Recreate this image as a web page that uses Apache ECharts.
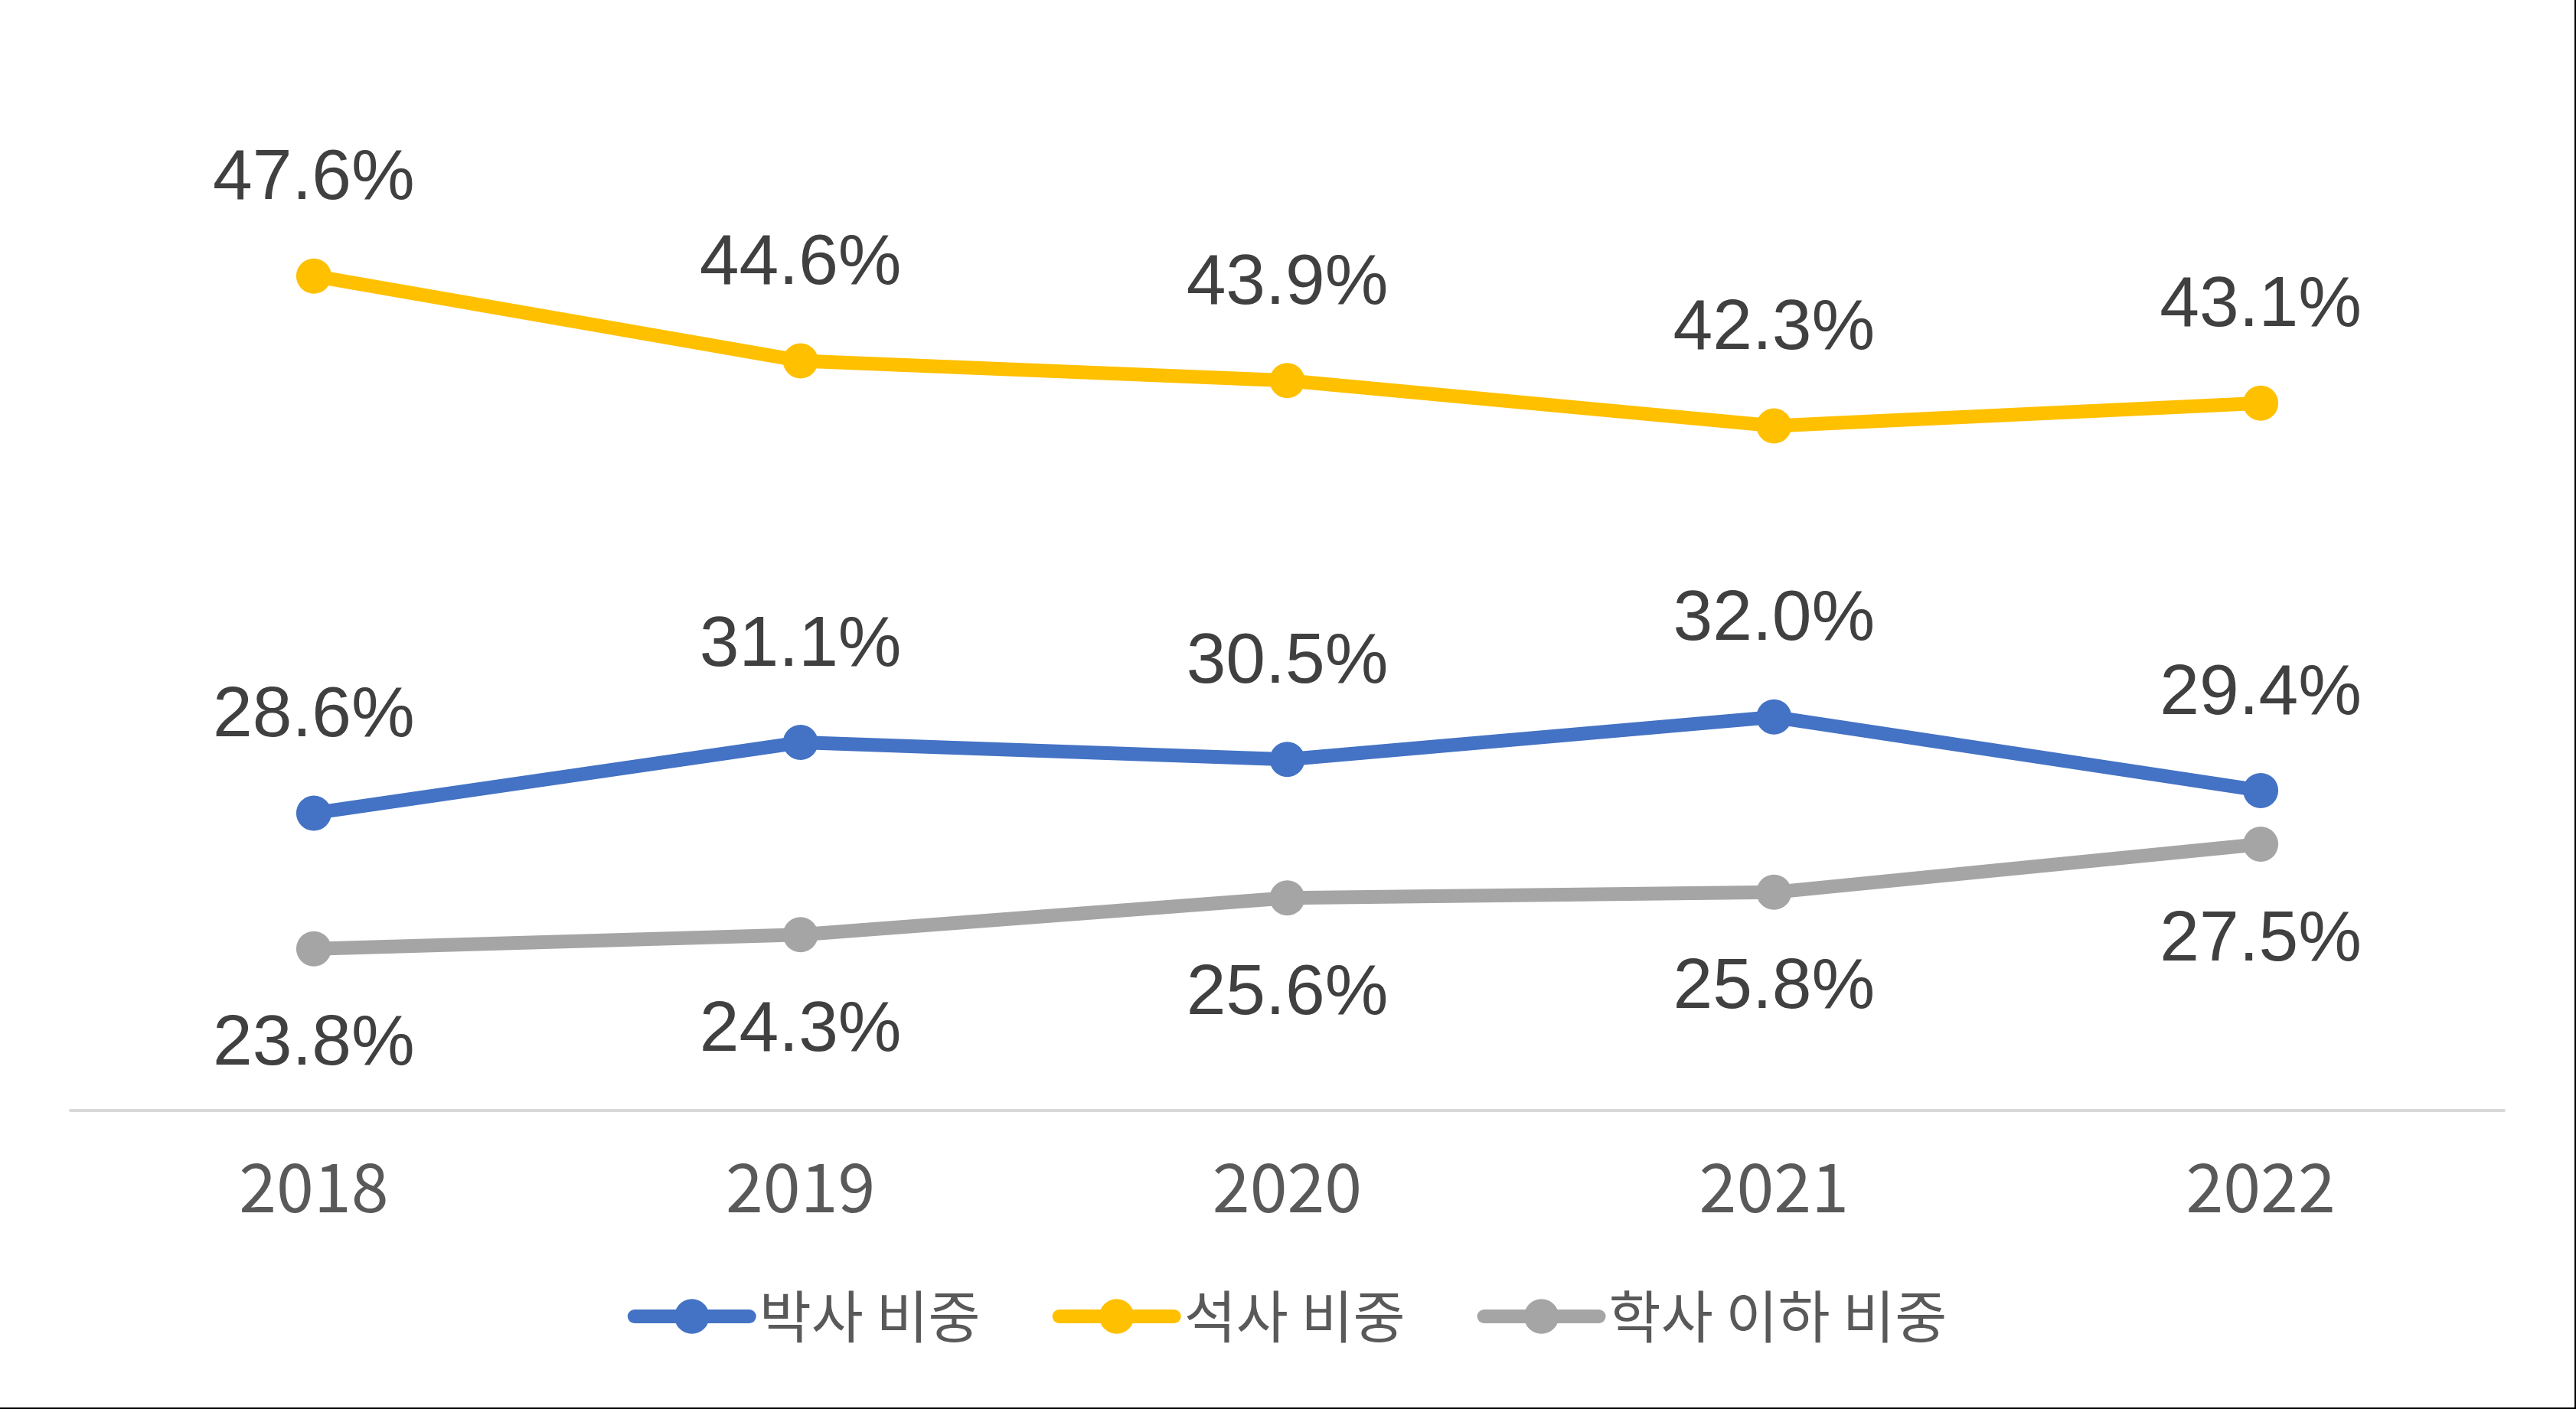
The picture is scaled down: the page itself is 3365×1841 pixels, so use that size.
<!DOCTYPE html>
<html>
<head>
<meta charset="utf-8">
<script src="https://cdn.jsdelivr.net/npm/echarts@6/dist/echarts.min.js"></script>
<style>
  html, body { margin: 0; padding: 0; background: #fff; }
  #wrap { width: 3365px; height: 1841px; box-sizing: border-box; border-right: 2px solid #000; border-bottom: 2px solid #000; }
  #chart { width: 3363px; height: 1839px; }
</style>
</head>
<body>
<div id="wrap"><div id="chart"></div></div>
<script>
const categories = ['2018', '2019', '2020', '2021', '2022'];
const seriesNames = ['박사 비중', '석사 비중', '학사 이하 비중'];
const doctorShare = [28.6, 31.1, 30.5, 32.0, 29.4];
const masterShare = [47.6, 44.6, 43.9, 42.3, 43.1];
const bachelorShare = [23.8, 24.3, 25.6, 25.8, 27.5];
const colors = ['#4472C4', '#FFC000', '#A5A5A5'];

const chart = echarts.init(document.getElementById('chart'), null, { renderer: 'canvas' });

function lineSeries(name, data, color, pos) {
  return {
    name: name,
    type: 'line',
    data: data,
    symbol: 'circle',
    symbolSize: 46,
    itemStyle: { color: color },
    lineStyle: { color: color, width: 18, cap: 'round', join: 'round' },
    label: {
      show: true,
      position: pos,
      distance: 57,
      formatter: p => p.value.toFixed(1) + '%',
      fontFamily: '"Liberation Sans", Arial, sans-serif',
      fontSize: 93,
      lineHeight: 92,
      color: '#404040'
    },
    emphasis: { disabled: true },
    animation: false
  };
}

chart.setOption({
  backgroundColor: '#ffffff',
  animation: false,
  grid: { left: 92, right: 92, top: 272, bottom: 388, containLabel: false },
  xAxis: {
    type: 'category',
    data: categories,
    boundaryGap: true,
    axisLine: { show: true, lineStyle: { color: '#D9D9D9', width: 4 } },
    axisTick: { show: false },
    axisLabel: {
      color: '#595959',
      fontFamily: '"Noto Sans CJK KR", "Noto Sans", sans-serif',
      fontSize: 88,
      lineHeight: 92,
      margin: 54
    }
  },
  yAxis: {
    type: 'value',
    min: 18.08,
    max: 50,
    show: false,
    splitLine: { show: false }
  },
  legend: {
    data: seriesNames,
    bottom: 77,
    left: 'center',
    itemWidth: 150,
    itemHeight: 57,
    itemGap: 94,
    lineStyle: { width: 18, cap: 'round' },
    textStyle: {
      color: '#595959',
      fontFamily: '"Noto Sans CJK KR", sans-serif',
      fontSize: 74,
      padding: [0, 0, 0, 8]
    }
  },
  series: [
    lineSeries(seriesNames[0], doctorShare, colors[0], 'top'),
    lineSeries(seriesNames[1], masterShare, colors[1], 'top'),
    lineSeries(seriesNames[2], bachelorShare, colors[2], 'bottom')
  ]
});
</script>
</body>
</html>
